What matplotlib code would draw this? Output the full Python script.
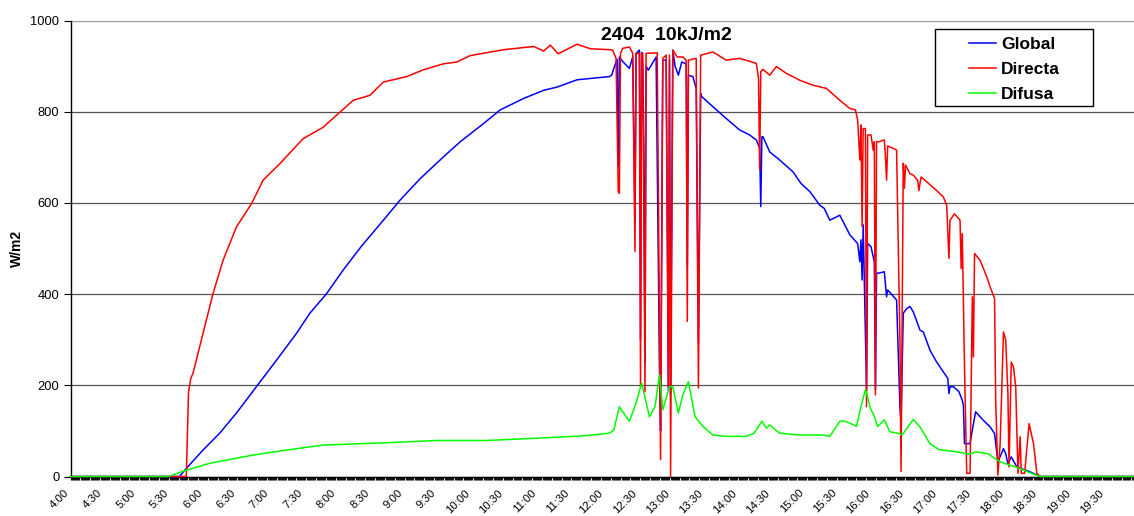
import matplotlib
matplotlib.use("Agg")
from matplotlib import pyplot as plt
from matplotlib.patches import Rectangle
from matplotlib.transforms import ScaledTranslation
import numpy as np

plt.rcParams['font.family'] = ['Liberation Sans', 'DejaVu Sans']

# Directa (red)
directa_t = ["4:00", "5:44", "5:46", "5:48", "5:50", "5:59", "6:08", "6:17", "6:29", "6:43",
             "6:53", "7:08", "7:29", "7:47", "8:02", "8:14", "8:29", "8:41", "9:02", "9:17",
             "9:35", "9:47", "9:59", "10:29", "10:56", "11:05", "11:11", "11:18", "11:35", "11:47",
             "12:04", "12:07", "12:10", "12:12", "12:13", "12:14", "12:16", "12:22", "12:25", "12:27",
             "12:28", "12:31", "12:32", "12:33", "12:34", "12:36", "12:37", "12:47", "12:50", "12:52",
             "12:55", "12:57", "12:58", "12:59", "13:01", "13:05", "13:10", "13:13", "13:14", "13:15",
             "13:22", "13:24", "13:26", "13:37", "13:49", "14:01", "14:16", "14:18", "14:19", "14:20",
             "14:22", "14:28", "14:34", "14:43", "14:55", "15:07", "15:19", "15:31", "15:40", "15:45",
             "15:47", "15:49", "15:50", "15:51", "15:52", "15:54", "15:55", "15:56", "15:59", "16:01",
             "16:02", "16:03", "16:04", "16:06", "16:11", "16:12", "16:13", "16:14", "16:22", "16:25",
             "16:26", "16:28", "16:29", "16:30", "16:34", "16:37", "16:41", "16:42", "16:44", "16:58",
             "17:04", "17:07", "17:09", "17:10", "17:14", "17:19", "17:20", "17:21", "17:23", "17:25",
             "17:28", "17:30", "17:31", "17:32", "17:37", "17:43", "17:46", "17:50", "17:51", "17:53",
             "17:55", "17:58", "18:00", "18:02", "18:03", "18:05", "18:07", "18:09", "18:11", "18:13",
             "18:14", "18:17", "18:21", "18:25", "18:28", "18:31", "20:00"]
directa_v = [0, 0, 185, 215, 226, 314, 401, 474, 547, 600,
             650, 686, 741, 766, 799, 825, 836, 865, 877, 892,
             905, 909, 923, 936, 943, 933, 946, 927, 948, 938,
             936, 935, 917, 625, 621, 928, 939, 942, 928, 493,
             928, 928, 197, 928, 928, 186, 928, 929, 37, 917,
             924, 197, 924, 0, 935, 920, 920, 913, 340, 913,
             917, 194, 924, 931, 913, 917, 906, 873, 672, 888,
             893, 880, 899, 884, 869, 858, 851, 825, 807, 804,
             782, 694, 771, 548, 763, 763, 153, 749, 749, 716,
             734, 179, 734, 734, 738, 700, 650, 725, 716, 300,
             11, 687, 632, 683, 664, 661, 649, 627, 657, 627,
             613, 595, 478, 562, 576, 562, 456, 533, 240, 7,
             7, 394, 262, 489, 474, 438, 416, 390, 167, 3,
             72, 317, 299, 182, 21, 251, 240, 197, 7, 87,
             7, 7, 116, 72, 7, 0, 0]

# Global (blue)
global_t = ["4:00", "5:38", "5:43", "5:59", "6:14", "6:29", "6:47", "7:05", "7:23", "7:35",
            "7:50", "8:05", "8:21", "8:41", "8:56", "9:14", "9:35", "9:50", "10:11", "10:26",
            "10:47", "11:05", "11:17", "11:35", "12:04", "12:06", "12:09", "12:11", "12:12", "12:13",
            "12:16", "12:22", "12:25", "12:27", "12:28", "12:31", "12:32", "12:33", "12:34", "12:35",
            "12:36", "12:37", "12:39", "12:46", "12:49", "12:50", "12:52", "12:55", "12:57", "12:58",
            "12:59", "13:01", "13:03", "13:06", "13:09", "13:13", "13:14", "13:15", "13:19", "13:22",
            "13:24", "13:26", "13:27", "13:37", "13:49", "14:01", "14:10", "14:16", "14:19", "14:20",
            "14:21", "14:22", "14:28", "14:37", "14:49", "14:56", "15:04", "15:13", "15:17", "15:22",
            "15:31", "15:40", "15:47", "15:49", "15:50", "15:51", "15:52", "15:55", "15:56", "15:59",
            "16:02", "16:03", "16:04", "16:06", "16:11", "16:13", "16:14", "16:22", "16:25", "16:26",
            "16:28", "16:31", "16:34", "16:37", "16:43", "16:46", "16:52", "16:58", "17:08", "17:09",
            "17:10", "17:13", "17:18", "17:21", "17:22", "17:23", "17:28", "17:30", "17:33", "17:40",
            "17:46", "17:50", "17:53", "17:58", "18:00", "18:02", "18:05", "18:10", "18:22", "18:31",
            "20:00"]
global_v = [0, 0, 15, 58, 95, 139, 197, 255, 314, 358,
            401, 453, 504, 562, 606, 653, 701, 734, 774, 804,
            829, 847, 854, 870, 877, 880, 902, 915, 680, 920,
            910, 895, 920, 560, 928, 935, 300, 930, 900, 723,
            250, 900, 891, 920, 241, 100, 913, 913, 190, 913,
            180, 935, 900, 880, 909, 905, 460, 880, 877, 851,
            292, 840, 833, 811, 785, 760, 749, 738, 720, 592,
            745, 745, 712, 694, 668, 643, 625, 595, 588, 562,
            573, 530, 511, 471, 519, 431, 552, 190, 511, 504,
            471, 190, 446, 446, 449, 394, 409, 387, 153, 117,
            358, 368, 373, 361, 321, 317, 277, 251, 215, 182,
            197, 197, 186, 167, 156, 72, 72, 102, 142, 123,
            109, 94, 32, 61, 50, 28, 43, 21, 10, 0,
            0]

# Difusa (green)
difusa_t = ["4:00", "5:28", "5:43", "6:05", "6:44", "7:14", "7:47", "8:44", "9:29", "10:14",
            "10:59", "11:40", "12:04", "12:08", "12:13", "12:22", "12:28", "12:33", "12:40", "12:45",
            "12:49", "12:52", "12:58", "13:01", "13:06", "13:10", "13:15", "13:21", "13:28", "13:37",
            "13:49", "14:07", "14:14", "14:21", "14:25", "14:28", "14:37", "14:55", "15:16", "15:22",
            "15:31", "15:34", "15:40", "15:46", "15:50", "15:54", "15:59", "16:01", "16:05", "16:11",
            "16:16", "16:25", "16:27", "16:37", "16:43", "16:52", "17:00", "17:16", "17:28", "17:33",
            "17:44", "17:55", "18:10", "18:22", "18:31", "20:00"]
difusa_v = [0, 0, 13, 29, 47, 58, 69, 74, 79, 79,
            84, 89, 95, 102, 153, 121, 161, 205, 131, 153,
            223, 146, 197, 197, 139, 179, 208, 131, 110, 91,
            88, 88, 95, 121, 106, 113, 95, 91, 91, 88,
            121, 122, 117, 110, 153, 191, 146, 138, 110, 124,
            98, 94, 91, 125, 109, 72, 59, 54, 49, 54,
            50, 32, 20, 8, 0, 0]

tick_labels = ["4:00", "4:30", "5:00", "5:30", "6:00", "6:30", "7:00", "7:30", "8:00", "8:30",
               "9:00", "9:30", "10:00", "10:30", "11:00", "11:30", "12:00", "12:30", "13:00", "13:30",
               "14:00", "14:30", "15:00", "15:30", "16:00", "16:30", "17:00", "17:30", "18:00", "18:30",
               "19:00", "19:30"]


def hours(labels):
    out = []
    for s in labels:
        h, m = s.split(":")
        out.append(int(h) + int(m) / 60.0)
    return np.array(out)


W, H = 1134, 516
fig = plt.figure(figsize=(W / 100, H / 100), dpi=100)
ax = fig.add_axes([70.5 / W, 39.5 / H, 1068.8 / W, 456 / H])

ax.plot(hours(global_t), global_v, color='#0000ff', lw=1.1, label='Global', clip_on=False, zorder=3)
ax.plot(hours(directa_t), directa_v, color='#ff0000', lw=1.1, label='Directa', clip_on=False, zorder=4)
ax.plot(hours(difusa_t), difusa_v, color='#00ff00', lw=1.1, label='Difusa', clip_on=False, zorder=5)

ax.set_xlim(4, 20)
ax.set_ylim(0, 1000)

ax.set_yticks(np.arange(0, 1001, 200))
ax.yaxis.grid(True, color='#555555', lw=0.9)
ax.get_ygridlines()[-1].set_color('#999999')
ax.set_axisbelow(True)
ax.tick_params(axis='y', direction='out', length=5, width=0.8, labelsize=9.3, pad=3)

ax.set_xticks(hours(tick_labels))
ax.set_xticklabels(tick_labels, rotation=45, ha='right', va='top', rotation_mode='anchor')
ax.set_xticks(np.arange(4, 20, 1 / 60.0), minor=True)
ax.tick_params(axis='x', which='major', direction='out', length=2.5, width=0.8, labelsize=8.2, pad=5.5)
ax.tick_params(axis='x', which='minor', direction='out', length=2.5, width=0.8, color='#111111')
shift = ScaledTranslation(-7 / 100, 0, fig.dpi_scale_trans)
for lab in ax.get_xticklabels():
    lab.set_transform(lab.get_transform() + shift)

for side in ['top', 'right']:
    ax.spines[side].set_visible(False)
ax.spines['left'].set_linewidth(1.0)
ax.spines['bottom'].set_linewidth(1.0)

ax.set_ylabel('W/m2', fontsize=10, fontweight='bold')
ax.yaxis.set_label_coords((24 - 70.5) / 1068.8, 0.5)

fig.text(666 / W, 1 - 35 / H, '2404  10kJ/m2', fontsize=14, fontweight='bold',
         ha='center', va='center')

leg = ax.legend(loc='upper left', bbox_to_anchor=(957 / W, 1 - 25 / H), bbox_transform=fig.transFigure,
                frameon=False, prop={'weight': 'bold', 'size': 12.5},
                handlelength=1.55, handletextpad=0.3, labelspacing=0.57, borderpad=0.2)
fig.patches.append(Rectangle((935 / W, 1 - 106 / H), 158 / W, 77 / H, transform=fig.transFigure,
                             fill=False, edgecolor='black', lw=1.0))

fig.savefig('out.png', dpi=100)
